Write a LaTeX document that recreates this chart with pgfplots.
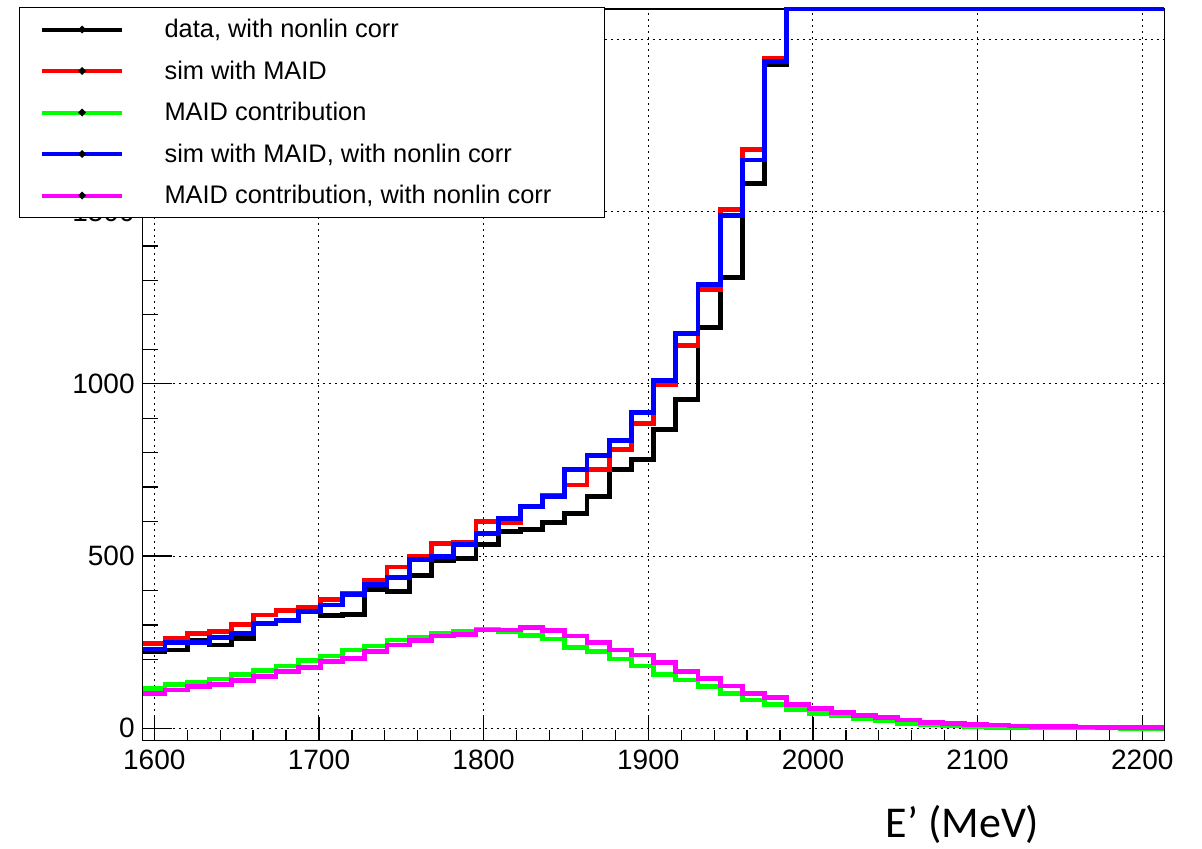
\documentclass[border=0pt]{standalone}
\usepackage{fontspec}
\setmainfont{Liberation Sans}
\newfontfamily\carlito{Carlito}
\usepackage{pgfplots}
\usepackage{pgfplotstable}
\pgfplotsset{compat=1.18}

\definecolor{hred}{RGB}{255,0,0}
\definecolor{hgreen}{RGB}{0,255,0}
\definecolor{hblue}{RGB}{0,0,255}
\definecolor{hmagenta}{RGB}{255,0,255}

% Histogram contents: left bin edge, then one column per histogram.
% The last row closes the final bin at the upper range limit.
% Bins that run off the top of the frame are stored at the axis maximum.
\pgfplotstableread{
edge    data    sim     maid  simnl   maidnl
1593.00 222     245     116   230     102
1606.49 227     261     126   248     111
1619.97 256     274     134   248     121
1633.46 242     282     143   264     128
1646.95 261     302     155   276     138
1660.44 303     329     167   303     150
1673.92 314     341     181   314     164
1687.41 338     350     196   338     177
1700.90 327     374     210   358     193
1714.38 331     392     227   389     203
1727.87 403     428     239   418     222
1741.36 397     468     256   438     242
1754.84 443     499     264   490     254
1768.33 487     537     276   499     268
1781.82 493     539     280   534     273
1795.31 534     600     287   566     285
1808.79 571     598     282   609     285
1822.28 578     643     269   643     293
1835.77 597     675     259   672     283
1849.25 624     706     235   752     268
1862.74 672     750     222   791     250
1876.23 750     810     201   835     227
1889.71 779     885     181   916     213
1903.20 868     996     155   1010    192
1916.69 954     1110    140   1146    164
1930.18 1164    1274    121   1289    145
1943.66 1309    1506    102   1487    123
1957.15 1580    1680    82    1649    102
1970.64 1927    1944    68    1934    90
1984.12 2087.3  2087.3  55    2087.3  70
1997.61 2087.3  2087.3  44    2087.3  58
2011.10 2087.3  2087.3  36    2087.3  46
2024.58 2087.3  2087.3  29    2087.3  37
2038.07 2087.3  2087.3  21    2087.3  31
2051.56 2087.3  2087.3  14.5  2087.3  24
2065.05 2087.3  2087.3  9.6   2087.3  17.4
2078.53 2087.3  2087.3  6.7   2087.3  14.5
2092.02 2087.3  2087.3  4.6   2087.3  11.6
2105.51 2087.3  2087.3  3.0   2087.3  9.6
2118.99 2087.3  2087.3  2.0   2087.3  6.7
2132.48 2087.3  2087.3  1.5   2087.3  6.0
2145.97 2087.3  2087.3  1.2   2087.3  4.6
2159.45 2087.3  2087.3  1.0   2087.3  4.0
2172.94 2087.3  2087.3  0.8   2087.3  3.0
2186.43 2087.3  2087.3  0.6   2087.3  3.0
2199.92 2087.3  2087.3  0.4   2087.3  2.0
2213.40 2087.3  2087.3  0.4   2087.3  2.0
}\hist

\newcommand{\entry}[1]{\makebox[209.65pt][l]{#1}}

\begin{document}
\begin{tikzpicture}
\begin{axis}[
  scale only axis,
  width=510.8pt, height=365.85pt,
  xmin=1592.96, xmax=2213.36,
  ymin=-36, ymax=2087.3,
  xtick={1600,1700,...,2200},
  ytick={0,500,...,2000},
  minor x tick num=4,
  minor y tick num=4,
  tick pos=left,
  tick align=inside,
  grid=major,
  major grid style={black, line width=0.5pt, dash pattern=on 1pt off 2pt},
  axis line style={black, line width=0.65pt},
  every tick/.style={black, line width=0.65pt},
  xtick style={/pgfplots/major tick length=12pt, /pgfplots/minor tick length=5.3pt},
  ytick style={/pgfplots/major tick length=14.5pt, /pgfplots/minor tick length=7.5pt},
  /pgf/number format/assume math mode=true,
  /pgf/number format/1000 sep={},
  ticklabel style={font=\fontsize{14}{16}\selectfont},
  xticklabel style={inner sep=0pt, yshift=-4.65pt},
  yticklabel style={inner sep=0pt, xshift=-3.85pt},
  xlabel={E’ (MeV)},
  xlabel style={font=\carlito\fontsize{22}{25}\selectfont,
    at={(axis description cs:0.8025,0)}, anchor=base, yshift=-48.4pt},
  clip=false,
  legend cell align=left,
  legend style={at={(-0.1214,1.00232)}, anchor=north west,
    draw=black, line width=0.5pt, fill=white,
    inner xsep=10.5pt, inner ysep=4.85pt, row sep=8.75pt,
    font=\fontsize{12.7}{14}\selectfont,
    nodes={inner sep=0pt, text height=10pt, text depth=2pt}},
  legend image code/.code={
    \draw[#1, line width=2pt] (0pt,0pt) -- (40pt,0pt);
    \fill[black] (20pt,0pt) circle (0.3pt);
    \path (60pt,0pt);
  },
]
\addplot[const plot, black, line width=2.4pt] table[x=edge, y=data] {\hist};
\addlegendentry{\entry{data, with nonlin corr}}
\addplot[const plot, hred, line width=2.4pt] table[x=edge, y=sim] {\hist};
\addlegendentry{\entry{sim with MAID}}
\addplot[const plot, hgreen, line width=2.4pt] table[x=edge, y=maid] {\hist};
\addlegendentry{\entry{MAID contribution}}
\addplot[const plot, hblue, line width=2.4pt] table[x=edge, y=simnl] {\hist};
\addlegendentry{\entry{sim with MAID, with nonlin corr}}
\addplot[const plot, hmagenta, line width=2.4pt] table[x=edge, y=maidnl] {\hist};
\addlegendentry{\entry{MAID contribution, with nonlin corr}}
\end{axis}
\pgfresetboundingbox
\path[use as bounding box] (-71.35pt,-53.65pt) rectangle (529.65pt,370.35pt);
\end{tikzpicture}
\end{document}
